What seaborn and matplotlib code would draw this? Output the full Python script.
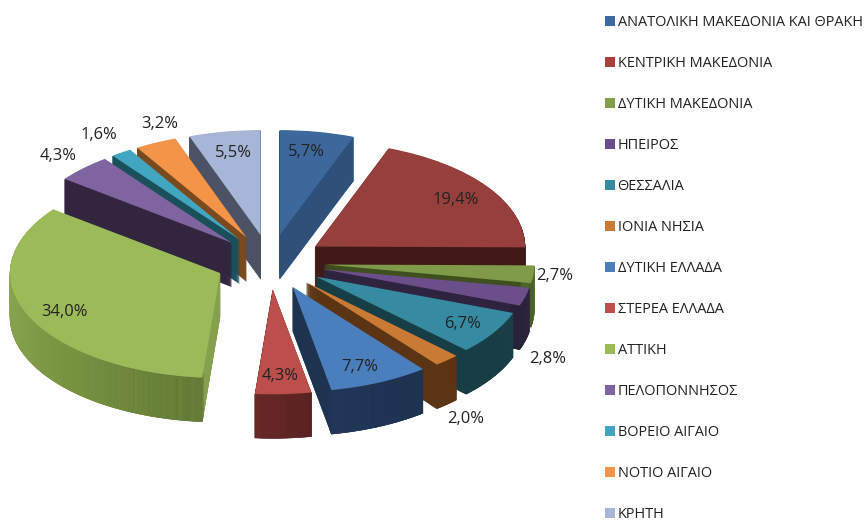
import matplotlib
matplotlib.use("Agg")
import matplotlib.pyplot as plt
from matplotlib.patches import Patch
import numpy as np
import seaborn as sns

REGIONS = ["ΑΝΑΤΟΛΙΚΗ ΜΑΚΕΔΟΝΙΑ ΚΑΙ ΘΡΑΚΗ", "ΚΕΝΤΡΙΚΗ ΜΑΚΕΔΟΝΙΑ", "ΔΥΤΙΚΗ ΜΑΚΕΔΟΝΙΑ",
           "ΗΠΕΙΡΟΣ", "ΘΕΣΣΑΛΙΑ", "ΙΟΝΙΑ ΝΗΣΙΑ", "ΔΥΤΙΚΗ ΕΛΛΑΔΑ", "ΣΤΕΡΕΑ ΕΛΛΑΔΑ",
           "ΑΤΤΙΚΗ", "ΠΕΛΟΠΟΝΝΗΣΟΣ", "ΒΟΡΕΙΟ ΑΙΓΑΙΟ", "ΝΟΤΙΟ ΑΙΓΑΙΟ", "ΚΡΗΤΗ"]
VALUES = [5.7, 19.4, 2.7, 2.8, 6.7, 2.0, 7.7, 4.3, 34.0, 4.3, 1.6, 3.2, 5.5]
TOP_COLORS = ["#3C689C", "#963F3C", "#7F9B49", "#6B4E8A", "#368BA3", "#C97B35", "#4B7EBC",
              "#BC4F4C", "#9BBB59", "#8064A2", "#43A6C1", "#F39448", "#A7B5D6"]
LEGEND_COLORS = ["#3C6AA0", "#A5403D", "#84A04C", "#6B4E8F", "#368BA3", "#C97B35", "#4B7EBC",
                 "#BC4F4C", "#9BBB59", "#8064A2", "#43A6C1", "#F39448", "#A7B5D6"]
FACE_COLORS = ["#2E5079", "#401A16", "#3F5020", "#2E2440", "#173E45", "#5A3413", "#1E3350",
               "#5E2422", "#86A14E", "#32263F", "#1A4F5C", "#7A4A1F", "#4A5263"]
RIM_STOPS = [["#2E5079", "#2E5079"], ["#401A16", "#401A16"], ["#6C8A3B", "#4F6A2A"],
             ["#2E2440", "#2A2238"], ["#1A4248", "#173E45"], ["#5A3413", "#5A3413"],
             ["#1E3350", "#22395A"], ["#5A2321", "#6B2B29"],
             ["#5F7535", "#76923F", "#8CA855", "#8CA855"], ["#32263F", "#32263F"],
             ["#1A4F5C", "#1A4F5C"], ["#7A4A1F", "#7A4A1F"], ["#4A5263", "#4A5263"]]
LABEL_PIXELS = [(306, 152), (456, 200), (555, 276), (548, 359), (463, 324), (466, 419),
                (360, 367), (280, 376), (64, 312), (58, 156), (99, 135), (160, 124), (233, 153)]

CX, CY, RX, RY = 270.0, 262.0, 210.0, 105.0
DEPTH_PX = 44
EXPLODE = 0.26
RIM = 0.05

sns.set_theme(style="white")
plt.rcParams["font.family"] = ["Open Sans", "DejaVu Sans"]

fig = plt.figure(figsize=(8.67, 5.21), dpi=100, facecolor="white")
ax = fig.add_axes([0, 0, 1, 1])

total = sum(VALUES)
cum = np.cumsum([0] + VALUES) / total
mid = np.deg2rad((cum[:-1] + cum[1:]) * 180)
rank = np.empty(len(VALUES))
rank[np.argsort(-np.cos(mid))] = np.arange(len(VALUES))

for k in range(DEPTH_PX, 0, -1):
    level = (DEPTH_PX - k) * 0.01
    center = (0, -k / RY)
    faces, _ = ax.pie(VALUES, colors=FACE_COLORS, explode=[EXPLODE] * len(VALUES),
                      startangle=90, counterclock=False, center=center, radius=1,
                      labeldistance=None, wedgeprops=dict(linewidth=0))
    for i, w in enumerate(faces):
        w.set_edgecolor(w.get_facecolor())
        w.set_linewidth(0.4)
        w.set_zorder(rank[i] + level)
    # outer rim of each slice, shaded along the arc
    for i, v in enumerate(VALUES):
        n = max(2, int(round(v * 2)))
        rim_center = (EXPLODE * np.sin(mid[i]), EXPLODE * np.cos(mid[i]) - k / RY)
        rims, _ = ax.pie([v / total / n] * n, colors=sns.blend_palette(RIM_STOPS[i], n),
                         normalize=False, startangle=90 - cum[i] * 360, counterclock=False,
                         center=rim_center, radius=1, labeldistance=None,
                         wedgeprops=dict(width=RIM, linewidth=0))
        for w in rims:
            w.set_edgecolor(w.get_facecolor())
            w.set_linewidth(0.4)
            w.set_zorder(rank[i] + level + 0.005)

tops, _ = ax.pie(VALUES, colors=TOP_COLORS, explode=[EXPLODE] * len(VALUES),
                 startangle=90, counterclock=False, center=(0, 0), radius=1,
                 labeldistance=None, wedgeprops=dict(linewidth=0))
for i, w in enumerate(tops):
    w.set_zorder(rank[i] + 0.9)

ax.set_aspect("auto")
ax.set_xlim((0 - CX) / RX, (867 - CX) / RX)
ax.set_ylim((CY - 521) / RY, (CY - 0) / RY)
ax.axis("off")

for v, (px, py) in zip(VALUES, LABEL_PIXELS):
    ax.text((px - CX) / RX, (CY - py) / RY, f"{v:.1f}%".replace(".", ","),
            ha="center", va="center", fontsize=11.9, color="#222222", zorder=30)

fs = 10.45
fs_px = fs * 100 / 72
handles = [Patch(facecolor=c, edgecolor="none", label=r) for c, r in zip(LEGEND_COLORS, REGIONS)]
leg = ax.legend(handles=handles, loc="upper left", bbox_to_anchor=(605 / 867, 1 - 15 / 521),
                frameon=False, fontsize=fs, handlelength=10 / fs_px, handleheight=10 / fs_px,
                handletextpad=2.5 / fs_px, labelspacing=(40.5 - fs_px) / fs_px,
                borderpad=0, borderaxespad=0)
leg.set_zorder(40)
for t in leg.get_texts():
    t.set_color("#222222")

fig.savefig("out.png", dpi=100, facecolor="white")
